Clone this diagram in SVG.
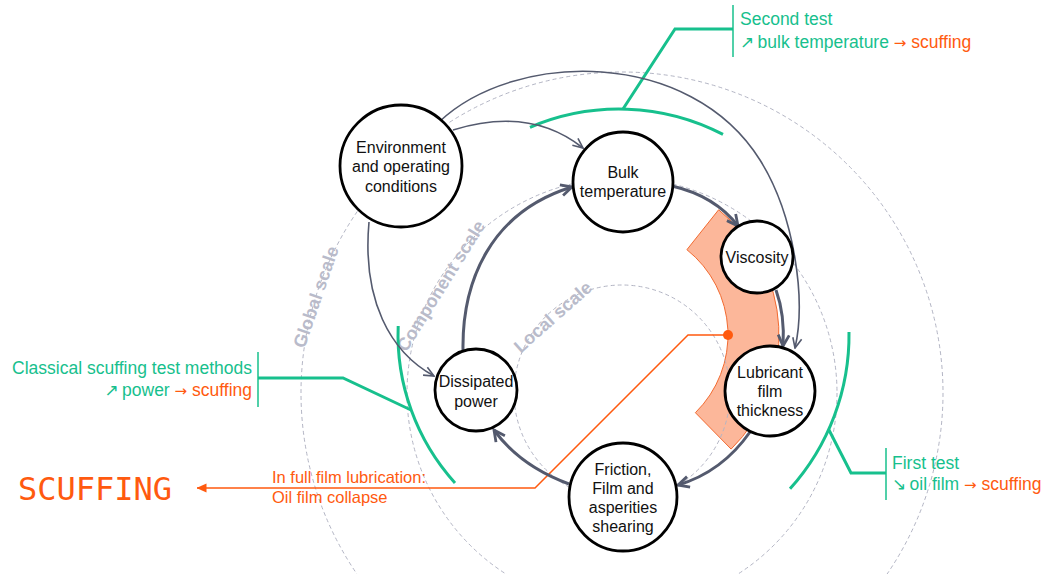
<svg xmlns="http://www.w3.org/2000/svg" width="1045" height="574" viewBox="0 0 1045 574">
<style>
.node circle{fill:#fff;stroke:#000;stroke-width:2.8}
.nt{font-family:"Liberation Sans",Arial,sans-serif;font-size:16px;fill:#111;text-anchor:middle}
.scale{fill:none;stroke:#b3b5c4;stroke-width:1;stroke-dasharray:4 3}
.sl{font-family:"Liberation Sans",Arial,sans-serif;font-size:18px;font-weight:bold;fill:#b9bbca;text-anchor:middle;dominant-baseline:central}
.thin{fill:none;stroke:#545a6e;stroke-width:1.6;marker-end:url(#at)}
.thick{fill:none;stroke:#545a6e;stroke-width:3;marker-end:url(#ak)}
.g{fill:none;stroke:#17c08d;stroke-width:3}
.gb{fill:none;stroke:#17c08d;stroke-width:1.5}
.lbl{font-family:"Liberation Sans",Arial,sans-serif;font-size:17.5px;fill:#17c08d}
.ol{font-family:"Liberation Sans",Arial,sans-serif;font-size:16.5px;fill:#ff5a0f}
.o{fill:#ff5a0f}
.da{font-family:"DejaVu Sans",sans-serif;font-size:17px;letter-spacing:-1.5px}
.ra{font-family:"DejaVu Sans",sans-serif;font-size:15px}
</style>
<defs>
<marker id="at" viewBox="0 0 12 12" refX="11" refY="6" markerWidth="12" markerHeight="12" markerUnits="userSpaceOnUse" orient="auto"><path d="M1,1.5 L11,6 L1,10.5" fill="none" stroke="#545a6e" stroke-width="1.6"/></marker>
<marker id="ak" viewBox="0 0 14 14" refX="12.5" refY="7" markerWidth="14" markerHeight="14" markerUnits="userSpaceOnUse" orient="auto"><path d="M1.5,1.5 L12.5,7 L1.5,12.5" fill="none" stroke="#545a6e" stroke-width="2.8"/></marker>
<marker id="ao" viewBox="0 0 10 10" refX="9.5" refY="5" markerWidth="10" markerHeight="10" markerUnits="userSpaceOnUse" orient="auto"><path d="M0,0.5 L10,5 L0,9.5 Z" fill="#ff5a0f"/></marker>
</defs>

<g id="wedge">
<path d="M686.9,249.7 L718.6,209.8 A160,160 0 0 1 731.1,449.1 L695.4,412.7 A109,109 0 0 0 686.9,249.7 Z" fill="#fcb79a" stroke="#f26a30" stroke-width="1"/>
</g>

<g id="scales">
<circle class="scale" cx="622" cy="393" r="108"/>
<circle class="scale" cx="622" cy="393" r="215"/>
<circle class="scale" cx="622" cy="393" r="321"/>
<text class="sl" transform="translate(316,297) rotate(-71)">Global scale</text>
<text class="sl" transform="translate(441,286) rotate(-58)">Component scale</text>
<text class="sl" transform="translate(553,317) rotate(-41.5)">Local scale</text>
</g>

<g id="tests">
<path class="g" d="M530,127.3 A226,226 0 0 1 723,134.4"/>
<polyline class="g" points="623,109 675,29 733,29"/>
<line class="gb" x1="733" y1="5" x2="733" y2="57"/>
<text class="lbl" x="740" y="25">Second test</text>
<text class="lbl" x="740" y="48"><tspan class="da">↗</tspan> bulk temperature <tspan class="o"><tspan class="ra">→</tspan> scuffing</tspan></text>

<path class="g" d="M398.2,326 A221,221 0 0 0 455,483"/>
<polyline class="g" points="411,410 343,378 258,378"/>
<line class="gb" x1="258" y1="352" x2="258" y2="407"/>
<text class="lbl" x="252" y="374" text-anchor="end">Classical scuffing test methods</text>
<text class="lbl" x="252" y="396" text-anchor="end"><tspan class="da">↗</tspan> power <tspan class="o"><tspan class="ra">→</tspan> scuffing</tspan></text>

<path class="g" d="M849,332 A230,230 0 0 1 790,488.8"/>
<polyline class="g" points="829,430 851,473 886,473"/>
<line class="gb" x1="886" y1="448" x2="886" y2="500"/>
<text class="lbl" x="892" y="469">First test</text>
<text class="lbl" x="892" y="490"><tspan class="da">↘</tspan> oil film <tspan class="o"><tspan class="ra">→</tspan> scuffing</tspan></text>
</g>

<g id="collapse">
<polyline points="728,335 688,335 535,488 197,488" fill="none" stroke="#ff5a0f" stroke-width="1.5" marker-end="url(#ao)"/>
<circle cx="728" cy="335" r="5" fill="#ff5a0f"/>
<text class="ol" x="272" y="483">In full film lubrication:</text>
<text class="ol" x="272" y="503">Oil film collapse</text>
<text x="18" y="500" font-family="'DejaVu Sans Mono','Liberation Mono',monospace" font-size="32" fill="#ff5a0f">SCUFFING</text>
</g>

<g id="connectors">
<path class="thin" d="M453,130 Q530,106 583,148"/>
<path class="thin" d="M439,122 C515,50 690,48 760,160 C795,216 806,300 795,348"/>
<path class="thin" d="M369,222 C362,300 390,352 434,376"/>
<path class="thick" d="M672,186 Q715,196 738,226"/>
<path class="thick" d="M776,290 Q785,315 783,346"/>
<path class="thick" d="M750,432 Q722,472 678,485"/>
<path class="thick" d="M569,484 Q520,466 494,430"/>
<path class="thick" d="M463,350 C462,282 490,212 572,187"/>
</g>

<g id="env" class="node"><circle cx="401" cy="166" r="61"/>
<text class="nt" x="401" y="153">Environment</text><text class="nt" x="401" y="172">and operating</text><text class="nt" x="401" y="192">conditions</text></g>
<g id="bulk" class="node"><circle cx="623" cy="182" r="50"/>
<text class="nt" x="623" y="178">Bulk</text><text class="nt" x="623" y="197">temperature</text></g>
<g id="viscosity" class="node"><circle cx="757" cy="257" r="36"/>
<text class="nt" x="757" y="263">Viscosity</text></g>
<g id="film" class="node"><circle cx="770" cy="391" r="45"/>
<text class="nt" x="770" y="378">Lubricant</text><text class="nt" x="770" y="397">film</text><text class="nt" x="770" y="416">thickness</text></g>
<g id="friction" class="node"><circle cx="623" cy="497" r="54"/>
<text class="nt" x="623" y="475">Friction,</text><text class="nt" x="623" y="494">Film and</text><text class="nt" x="623" y="513">asperities</text><text class="nt" x="623" y="532">shearing</text></g>
<g id="power" class="node"><circle cx="476" cy="390" r="41"/>
<text class="nt" x="476" y="387">Dissipated</text><text class="nt" x="476" y="407">power</text></g>
</svg>
